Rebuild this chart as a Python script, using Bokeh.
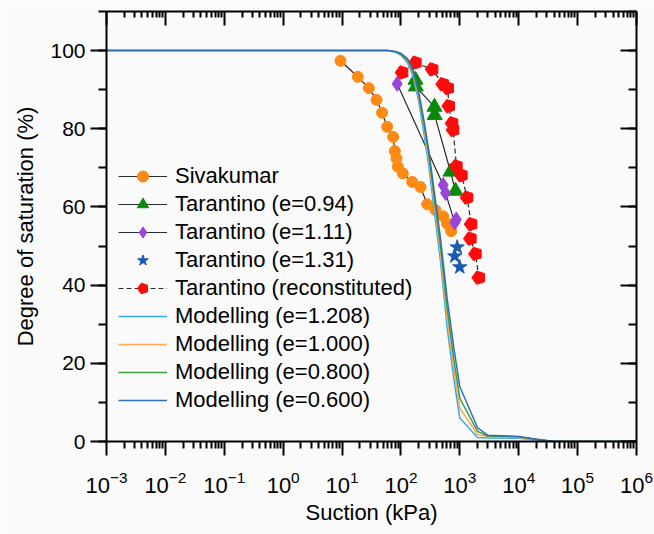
from bokeh.plotting import figure
from bokeh.models import (Range1d, LogAxis, LinearAxis, FixedTicker, SingleIntervalTicker,
                          Legend, LegendItem)
from bokeh.embed import file_html
from bokeh.resources import INLINE

# ---------------- data ----------------
siva_s = [9.4, 18.5, 28.5, 38.5, 47.9, 58.3, 73.8, 78.7, 84, 88.5, 107.7, 155, 215, 279, 386, 521, 609, 713]
siva_S = [97.4, 93.3, 90.4, 87.4, 84.1, 80.5, 77.9, 74.3, 72.4, 70.3, 68.6, 66.4, 65.1, 60.7, 59.2, 57.6, 55.7, 53.8]

t094_s = [176.6, 179, 371, 374, 694, 844]
t094_S = [92.5, 90.8, 85.6, 83.5, 69.0, 64.1]

t111_s = [86.3, 521, 571, 820, 870]
t111_S = [91.5, 65.6, 63.6, 56.0, 56.8]

t131_s = [902, 821, 998]
t131_S = [49.7, 47.4, 44.6]

trec_s = [105, 176.6, 340, 514, 625, 650, 741, 771, 878, 1067, 1334, 1560, 1517, 1845, 2100]
trec_S = [94.4, 96.9, 95.2, 91.4, 90.4, 85.8, 81.4, 79.7, 70.4, 68.1, 62.4, 55.6, 51.9, 48.0, 41.9]

mod_s = [0.001, 1, 10, 40, 60, 80, 100, 130, 160, 200, 250, 300, 360, 470, 610, 790, 1000,
         2000, 3000, 5000, 10000, 20000, 40000, 1e6]
mod_1208 = [100, 100, 100, 100, 100, 99.6, 98.8, 96.8, 93.5, 87.0, 78.0, 70.0, 60.0, 46.0, 29.0, 16.0, 6.0,
            1.0, 0.9, 0.9, 0.8, 0.4, 0, 0]
mod_1000 = [100, 100, 100, 100, 100, 99.7, 99.0, 97.2, 94.2, 88.0, 79.5, 71.5, 62.0, 48.0, 31.5, 18.5, 8.5,
            1.8, 1.2, 1.1, 1.0, 0.5, 0, 0]
mod_0800 = [100, 100, 100, 100, 100, 99.7, 99.1, 97.5, 94.6, 88.8, 80.5, 73.0, 63.5, 50.0, 34.0, 21.0, 11.0,
            2.6, 1.4, 1.3, 1.2, 0.6, 0, 0]
mod_0600 = [100, 100, 100, 100, 100, 99.8, 99.3, 97.9, 95.2, 89.5, 81.5, 74.0, 65.0, 52.0, 36.5, 24.0, 14.0,
            3.5, 1.6, 1.5, 1.3, 0.6, 0, 0]

x_major = [1e-3, 1e-2, 1e-1, 1, 10, 100, 1e3, 1e4, 1e5, 1e6]
x_minor = [m * 10.0 ** d for d in range(-3, 6) for m in range(2, 10)]

FONT = "Liberation Sans"
BG = "#fafafa"

p = figure(width=654, height=534, x_axis_type="log",
           x_range=Range1d(1e-3, 1e6), y_range=Range1d(0, 110),
           output_backend="svg", toolbar_location=None,
           min_border_left=106, min_border_right=18, min_border_top=11, min_border_bottom=93,
           background_fill_color=BG, border_fill_color=BG, outline_line_color=None)
p.grid.visible = False

# bottom axis
xa = p.xaxis[0]
xa.ticker = FixedTicker(ticks=x_major, minor_ticks=x_minor)
xa.axis_label = "Suction (kPa)"
xa.axis_label_text_font = FONT
xa.axis_label_text_font_size = "22px"
xa.axis_label_text_font_style = "normal"
xa.axis_label_text_color = "black"
xa.axis_label_standoff = 4
xa.major_label_text_font = FONT
xa.major_label_text_font_size = "22px"
xa.major_label_text_color = "black"
xa.major_label_standoff = 15
xa.axis_line_width = 2
xa.major_tick_line_width = 2
xa.minor_tick_line_width = 2
xa.major_tick_out = 14
xa.major_tick_in = 0
xa.minor_tick_out = 7
xa.minor_tick_in = 0

# left axis
ya = p.yaxis[0]
ya.ticker = SingleIntervalTicker(interval=20, num_minor_ticks=2)
ya.axis_label = "Degree of saturation (%)"
ya.axis_label_text_font = FONT
ya.axis_label_text_font_size = "22px"
ya.axis_label_text_font_style = "normal"
ya.axis_label_text_color = "black"
ya.axis_label_standoff = 9
ya.major_label_text_font = FONT
ya.major_label_text_font_size = "21px"
ya.major_label_text_color = "black"
ya.major_label_standoff = 5
ya.axis_line_width = 2
ya.major_tick_line_width = 2
ya.minor_tick_line_width = 2
ya.major_tick_out = 16
ya.major_tick_in = 0
ya.minor_tick_out = 8
ya.minor_tick_in = 0

# top axis (ticks inward, labels hidden)
ta = LogAxis(ticker=FixedTicker(ticks=x_major, minor_ticks=x_minor),
             major_label_text_font_size="2px", major_label_text_color=None, major_label_standoff=0,
             axis_line_width=2, major_tick_line_width=2, minor_tick_line_width=2,
             major_tick_in=14, major_tick_out=0, minor_tick_in=6, minor_tick_out=0)
p.add_layout(ta, "above")

# right axis
ra = LinearAxis(ticker=SingleIntervalTicker(interval=20, num_minor_ticks=2),
                major_label_text_font_size="2px", major_label_text_color=None, major_label_standoff=0,
                axis_line_width=2, major_tick_line_width=2, minor_tick_line_width=2,
                major_tick_in=16, major_tick_out=0, minor_tick_in=8, minor_tick_out=0)
p.add_layout(ra, "right")

LINE = "#2a2a2a"

l1 = p.line(siva_s, siva_S, line_color=LINE, line_width=1.2)
s1 = p.scatter(siva_s, siva_S, marker="circle", size=11, fill_color="#ff8a12", line_color="#ff8a12")

l2 = p.line(t094_s, t094_S, line_color=LINE, line_width=1.2)
s2 = p.scatter(t094_s, t094_S, marker="triangle", size=15, fill_color="#0a8a0a", line_color="#0a8a0a")

l3 = p.line(t111_s, t111_S, line_color=LINE, line_width=1.2)
s3 = p.scatter(t111_s, t111_S, marker="diamond", size=15, fill_color="#9b45d8", line_color="#9b45d8")

s4 = p.scatter(t131_s, t131_S, marker="star", size=15, fill_color="#1a5aae", line_color="#1a5aae")

l5 = p.line(trec_s, trec_S, line_color=LINE, line_width=1.2, line_dash="5 3")
s5 = p.ngon(trec_s, trec_S, radius=7, radius_units="screen", n=5, angle=1.5708,
            fill_color="#ff0a0a", line_color="#ff0a0a")

m1 = p.line(mod_s, mod_1208, line_color="#3aa8f0", line_width=1.5)
m2 = p.line(mod_s, mod_1000, line_color="#ffa850", line_width=1.5)
m3 = p.line(mod_s, mod_0800, line_color="#3c9e3c", line_width=1.5)
m4 = p.line(mod_s, mod_0600, line_color="#2f6fba", line_width=1.5)

items = [
    LegendItem(label="Sivakumar", renderers=[l1, s1]),
    LegendItem(label="Tarantino (e=0.94)", renderers=[l2, s2]),
    LegendItem(label="Tarantino (e=1.11)", renderers=[l3, s3]),
    LegendItem(label="Tarantino (e=1.31)", renderers=[s4]),
    LegendItem(label="Tarantino (reconstituted)", renderers=[l5, s5]),
    LegendItem(label="Modelling (e=1.208)", renderers=[m1]),
    LegendItem(label="Modelling (e=1.000)", renderers=[m2]),
    LegendItem(label="Modelling (e=0.800)", renderers=[m3]),
    LegendItem(label="Modelling (e=0.600)", renderers=[m4]),
]
legend = Legend(items=items, location=(12, 27), label_text_font=FONT, label_text_font_size="22px",
                label_text_color="black", glyph_width=49, glyph_height=28, label_height=28,
                spacing=0, padding=0, margin=0, label_standoff=8,
                border_line_color=None, background_fill_alpha=0)
p.add_layout(legend)

open("out.html", "w").write(file_html(p, INLINE))
